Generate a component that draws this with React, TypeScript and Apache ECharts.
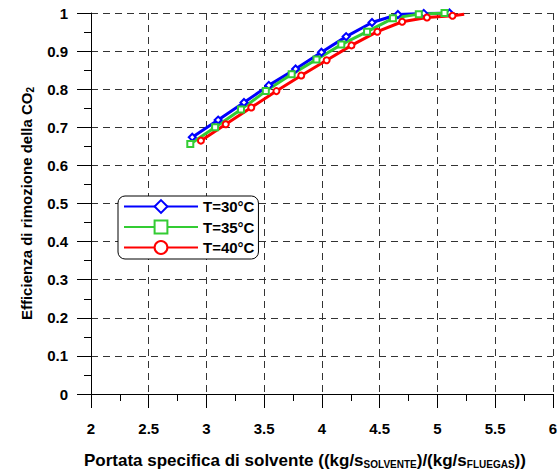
import React, { useEffect, useRef } from "react";
import * as echarts from "echarts";

const seriesNames = ["T=30°C", "T=35°C", "T=40°C"];
const blueX = [2.877, 3.101, 3.325, 3.54, 3.772, 3.996, 4.21, 4.434, 4.658, 4.882, 5.105];
const blueY = [0.674, 0.719, 0.765, 0.81, 0.853, 0.897, 0.938, 0.975, 0.996, 0.999, 1.0];
const greenX = [2.86, 3.075, 3.299, 3.514, 3.738, 3.953, 4.168, 4.391, 4.615, 4.839, 5.062];
const greenY = [0.656, 0.7, 0.747, 0.795, 0.839, 0.878, 0.917, 0.951, 0.986, 0.997, 1.0];
const redX = [2.952, 3.167, 3.388, 3.606, 3.821, 4.041, 4.256, 4.48, 4.695, 4.91, 5.131, 5.232];
const redY = [0.665, 0.708, 0.752, 0.795, 0.836, 0.876, 0.915, 0.951, 0.977, 0.988, 0.993, 0.997];
const redMarked = [1, 1, 1, 1, 1, 1, 1, 1, 1, 1, 1, 0];

const FONT = "Arial, 'Liberation Sans', sans-serif";

export default function App() {
  const ref = useRef<HTMLDivElement>(null);
  useEffect(() => {
    if (!ref.current) return;
    const chart = echarts.init(ref.current, null, { renderer: "svg" });
    const mk = (xs: number[], ys: number[], marks?: number[]) =>
      xs.map((x, i) =>
        marks && !marks[i] ? { value: [x, ys[i]], symbol: "none" } : { value: [x, ys[i]] }
      );
    const subRich = {
      sub: { fontSize: 10, fontWeight: "bold", fontFamily: FONT, color: "#000", verticalAlign: "bottom", padding: [7, 0, 0, 0] },
    };
    chart.setOption({
      animation: false,
      backgroundColor: "#fff",
      grid: { left: 91, right: 4, top: 13, bottom: 76, containLabel: false },
      legend: {
        left: 118,
        top: 196,
        orient: "vertical",
        backgroundColor: "#fff",
        borderColor: "#000",
        borderWidth: 1,
        borderRadius: 7,
        padding: [3, 4, 4, 5],
        itemWidth: 74,
        itemHeight: 16,
        itemGap: 5.5,
        textStyle: { fontFamily: FONT, fontWeight: "bold", fontSize: 15, color: "#000" },
        data: seriesNames,
      },
      xAxis: {
        type: "value",
        min: 2,
        max: 6,
        interval: 0.5,
        name: "Portata specifica di solvente ((kg/s{sub|SOLVENTE})/(kg/s{sub|FLUEGAS}))",
        nameLocation: "middle",
        nameGap: 58,
        nameTextStyle: {
          fontFamily: FONT,
          fontWeight: "bold",
          fontSize: 17,
          color: "#000",
          rich: subRich,
          padding: [0, 34, 0, 0],
        },
        axisLine: { show: true, onZero: false, lineStyle: { color: "#000", width: 1 } },
        axisTick: { show: true, inside: false, length: 14, lineStyle: { color: "#000" } },
        minorTick: { show: true, splitNumber: 2, length: 7, lineStyle: { color: "#000" } },
        axisLabel: { fontFamily: FONT, fontWeight: "bold", fontSize: 15, color: "#000", margin: 27 },
        splitLine: { show: true, lineStyle: { color: "#333", type: [7, 5], width: 1 } },
      },
      yAxis: {
        type: "value",
        min: 0,
        max: 1,
        interval: 0.1,
        name: "Efficienza di rimozione della CO{sub|2}",
        nameLocation: "middle",
        nameRotate: 90,
        nameGap: 56,
        nameTextStyle: { fontFamily: FONT, fontWeight: "bold", fontSize: 15, color: "#000", rich: subRich },
        axisLine: { show: true, onZero: false, lineStyle: { color: "#000", width: 1 } },
        axisTick: { show: true, inside: false, length: 14, lineStyle: { color: "#000" } },
        minorTick: { show: true, splitNumber: 2, length: 7, lineStyle: { color: "#000" } },
        axisLabel: { fontFamily: FONT, fontWeight: "bold", fontSize: 15, color: "#000", margin: 23 },
        splitLine: { show: true, lineStyle: { color: "#333", type: [7, 5], width: 1 } },
      },
      series: [
        {
          name: seriesNames[0],
          type: "line",
          data: mk(blueX, blueY),
          symbol: "emptyDiamond",
          symbolSize: 7,
          color: "#0000ff",
          lineStyle: { width: 3, color: "#0000ff" },
          itemStyle: { color: "#0000ff", borderWidth: 1.5 },
        },
        {
          name: seriesNames[1],
          type: "line",
          data: mk(greenX, greenY),
          symbol: "emptyRect",
          symbolSize: 6,
          color: "#33cc33",
          lineStyle: { width: 3, color: "#33cc33" },
          itemStyle: { color: "#33cc33", borderWidth: 1.5 },
        },
        {
          name: seriesNames[2],
          type: "line",
          data: mk(redX, redY, redMarked),
          symbol: "emptyCircle",
          symbolSize: 6,
          color: "#ff0000",
          lineStyle: { width: 3, color: "#ff0000" },
          itemStyle: { color: "#ff0000", borderWidth: 1.5 },
        },
      ],
    });
    return () => chart.dispose();
  }, []);
  return <div ref={ref} style={{ position: "fixed", left: 0, top: 0, width: 560, height: 474 }} />;
}
